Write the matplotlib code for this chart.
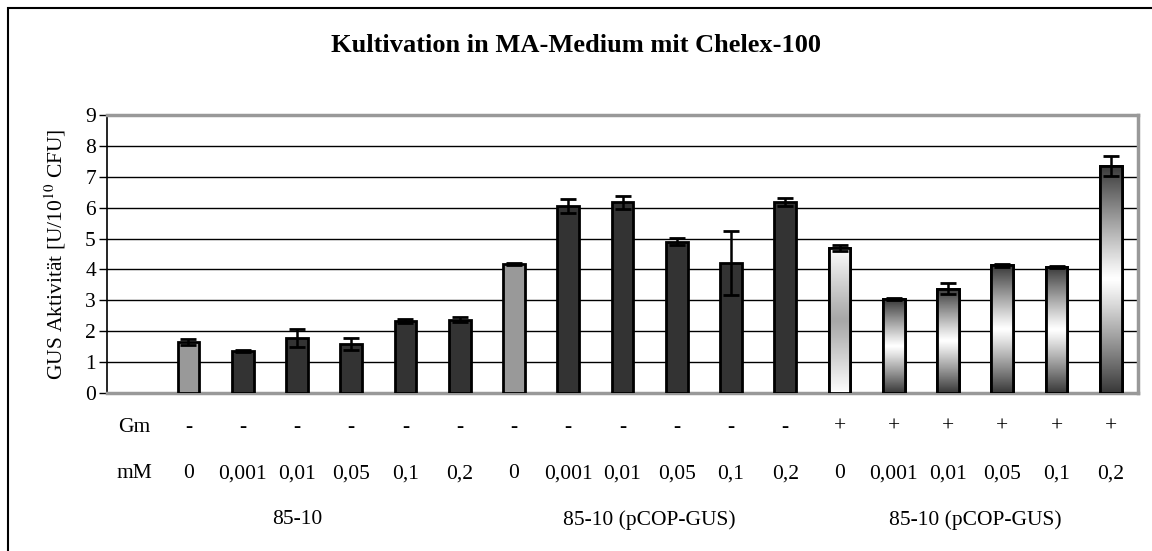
import matplotlib
matplotlib.use("Agg")
import matplotlib.pyplot as plt
import numpy as np
from matplotlib.transforms import blended_transform_factory
from matplotlib.patches import Rectangle
from matplotlib.colors import LinearSegmentedColormap

title = "Kultivation in MA-Medium mit Chelex-100"
ylabel = "GUS Aktivität [U/10$^{10}$ CFU]"
gm = ["-"] * 12 + ["+"] * 6
mm = ["0", "0,001", "0,01", "0,05", "0,1", "0,2"] * 3
groups = ["85-10", "85-10 (pCOP-GUS)", "85-10 (pCOP-GUS)"]
values = [1.65, 1.35, 1.78, 1.58, 2.33, 2.37,
          4.17, 6.05, 6.17, 4.90, 4.20, 6.18,
          4.70, 3.03, 3.38, 4.13, 4.08, 7.35]
errors = [0.10, 0.03, 0.30, 0.20, 0.05, 0.08,
          0.03, 0.22, 0.22, 0.12, 1.03, 0.12,
          0.10, 0.03, 0.17, 0.05, 0.03, 0.32]
styles = ["grey"] + ["dark"] * 5 + ["grey"] + ["dark"] * 5 + ["light"] + ["grad"] * 5

plt.rcParams["font.family"] = ["Liberation Serif", "DejaVu Serif"]
plt.rcParams["mathtext.fontset"] = "stix"

FS = 15.5
W, H = 1152, 551
fig = plt.figure(figsize=(W / 100, H / 100), dpi=100)
ax = fig.add_axes([107 / W, 1 - 393 / H, (1138 - 107) / W, (393 - 115) / H])

x = np.arange(1, len(values) + 1)
face = {"grey": "#999999", "dark": "#333333", "light": "white", "grad": "#333333"}
bars = ax.bar(x, values, width=0.4, color=[face[s] for s in styles],
              edgecolor="black", linewidth=2, zorder=3)

# gradients
t = np.linspace(-1, 1, 256)
grad = np.abs(t) ** 1.1
cm_dark = LinearSegmentedColormap.from_list("d", ["#ffffff", "#383838"])
cm_light = LinearSegmentedColormap.from_list("l", ["#a8a8a8", "#ffffff"])
for b, s in zip(bars, styles):
    if s in ("grad", "light"):
        x0, w, h = b.get_x(), b.get_width(), b.get_height()
        cmap = cm_dark if s == "grad" else cm_light
        im = ax.imshow(grad.reshape(-1, 1), cmap=cmap, aspect="auto",
                       extent=[x0, x0 + w, 0, h], origin="lower", zorder=3.5,
                       interpolation="bilinear")
        im.set_clip_path(b)
        ax.add_patch(Rectangle((x0, 0), w, h, fill=False, edgecolor="black",
                               linewidth=2, zorder=4))

ax.errorbar(x, values, yerr=errors, fmt="none", ecolor="black", elinewidth=1.8,
            capsize=6, capthick=2, zorder=5)

ax.set_xlim(-0.5, len(values) + 0.5)
ax.set_ylim(0, 9)
ax.set_yticks(range(0, 10))
ax.tick_params(axis="y", labelsize=FS, length=6, width=1, direction="out", pad=2)
ax.set_xticks([])
ax.yaxis.grid(True, color="black", linewidth=1)
ax.set_axisbelow(True)
for sp in ("top", "right", "bottom"):
    ax.spines[sp].set_color("#999999")
    ax.spines[sp].set_linewidth(2.5)
ax.spines["left"].set_color("black")
ax.spines["left"].set_linewidth(1.2)
ax.set_ylabel(ylabel, fontsize=FS)
ax.yaxis.set_label_coords((68 - 107) / (1138 - 107), 0.5)

fig.text(0.5, 1 - 46 / H, title, ha="center", va="center", fontsize=19,
         fontweight="bold")

tr = blended_transform_factory(ax.transData, fig.transFigure)
y_gm, y_mm, y_grp = 1 - 427 / H, 1 - 474 / H, 1 - 520 / H
ax.text(0, y_gm, "Gm", transform=tr, ha="center", va="center", fontsize=FS)
ax.text(0, y_mm, "mM", transform=tr, ha="center", va="center", fontsize=FS)
for xi, g, m in zip(x, gm, mm):
    ax.text(xi, y_gm, g, transform=tr, ha="center", va="center", fontsize=FS)
    ax.text(xi, y_mm, m, transform=tr, ha="center", va="center", fontsize=FS)
for gx, g in zip([3.0, 9.5, 15.5], groups):
    ax.text(gx, y_grp, g, transform=tr, ha="center", va="center", fontsize=FS)

# outer frame
fig.add_artist(Rectangle((8 / W, -0.01), 1.2, 1 - 8 / H + 0.01, transform=fig.transFigure,
                         fill=False, edgecolor="black", linewidth=1.5))

fig.savefig("out.png", dpi=100)
